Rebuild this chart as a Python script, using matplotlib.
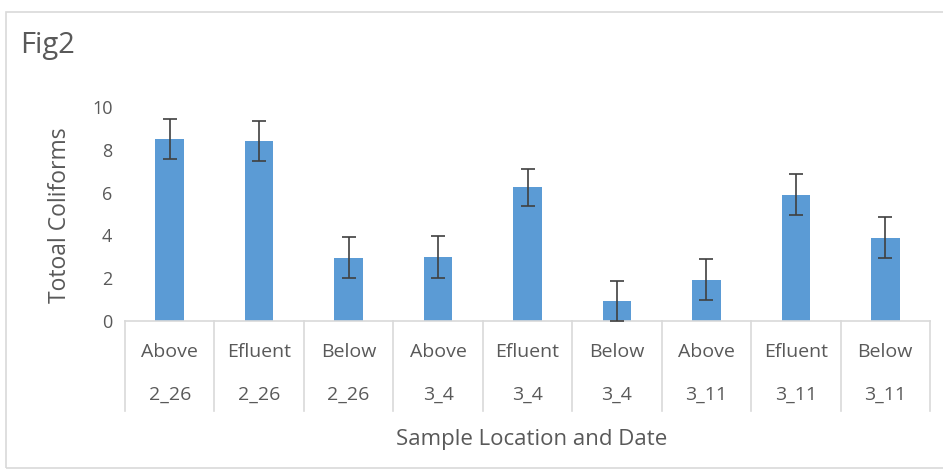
import matplotlib
matplotlib.use('Agg')
import matplotlib.pyplot as plt
from matplotlib.patches import Rectangle

plt.rcParams['font.family'] = ['Open Sans', 'DejaVu Sans']

locations = ['Above', 'Efluent', 'Below', 'Above', 'Efluent', 'Below', 'Above', 'Efluent', 'Below']
dates = ['2_26', '2_26', '2_26', '3_4', '3_4', '3_4', '3_11', '3_11', '3_11']
coliforms = [8.5, 8.4, 2.95, 3.0, 6.25, 0.93, 1.92, 5.9, 3.9]
errors = [0.95, 0.93, 0.96, 0.98, 0.87, 0.95, 0.96, 0.96, 0.96]

bar_color = '#5B9BD5'
text_color = '#595959'
line_color = '#D9D9D9'

W, H = 943, 470
fig = plt.figure(figsize=(W/100, H/100), dpi=100)

# chart border
fig.patches.append(Rectangle((6/W, 0.004), 1.2, 1 - 12/H - 0.004, transform=fig.transFigure,
                             fill=False, edgecolor=line_color, linewidth=1.2))

x0, x1 = 125, 930
y0, y1 = 321, 107
ax = fig.add_axes([x0/W, 1 - y0/H, (x1 - x0)/W, (y0 - y1)/H])

n = len(coliforms)
xs = list(range(n))
ax.bar(xs, coliforms, width=0.32, color=bar_color, zorder=2)
ax.errorbar(xs, coliforms, yerr=errors, fmt='none', ecolor='#404040',
            elinewidth=1.2, capsize=5, capthick=1.2, zorder=3)

ax.set_xlim(-0.5, n - 0.5)
ax.set_ylim(0, 10)
ax.set_yticks([0, 2, 4, 6, 8, 10])
ax.tick_params(axis='y', length=0, pad=9, labelsize=13, labelcolor=text_color)
ax.set_xticks([])
for s in ['top', 'right', 'left']:
    ax.spines[s].set_visible(False)
ax.spines['bottom'].set_color(line_color)
ax.spines['bottom'].set_linewidth(1.2)

# category table below the axis
ah = y0 - y1
table_bottom = -(411 - y0) / ah
tr = ax.get_xaxis_transform()
for b in range(n + 1):
    ax.plot([b - 0.5, b - 0.5], [0, table_bottom], transform=tr, color=line_color,
            linewidth=1.2, clip_on=False)
for i in xs:
    ax.text(i, -(352 - y0) / ah, locations[i], transform=tr, ha='center', va='center',
            fontsize=14, color=text_color)
    ax.text(i, -(395 - y0) / ah, dates[i], transform=tr, ha='center', va='center',
            fontsize=14, color=text_color)

fig.text(532/W, 1 - 440/H, 'Sample Location and Date', ha='center', va='center',
         fontsize=16, color=text_color)
fig.text(60/W, 1 - 215/H, 'Totoal Coliforms', ha='center', va='center', rotation=90,
         fontsize=16.5, color=text_color)
fig.text(20/W, 1 - 46/H, 'Fig2', ha='left', va='center', fontsize=21, color=text_color)

fig.savefig('out.png', dpi=100)
